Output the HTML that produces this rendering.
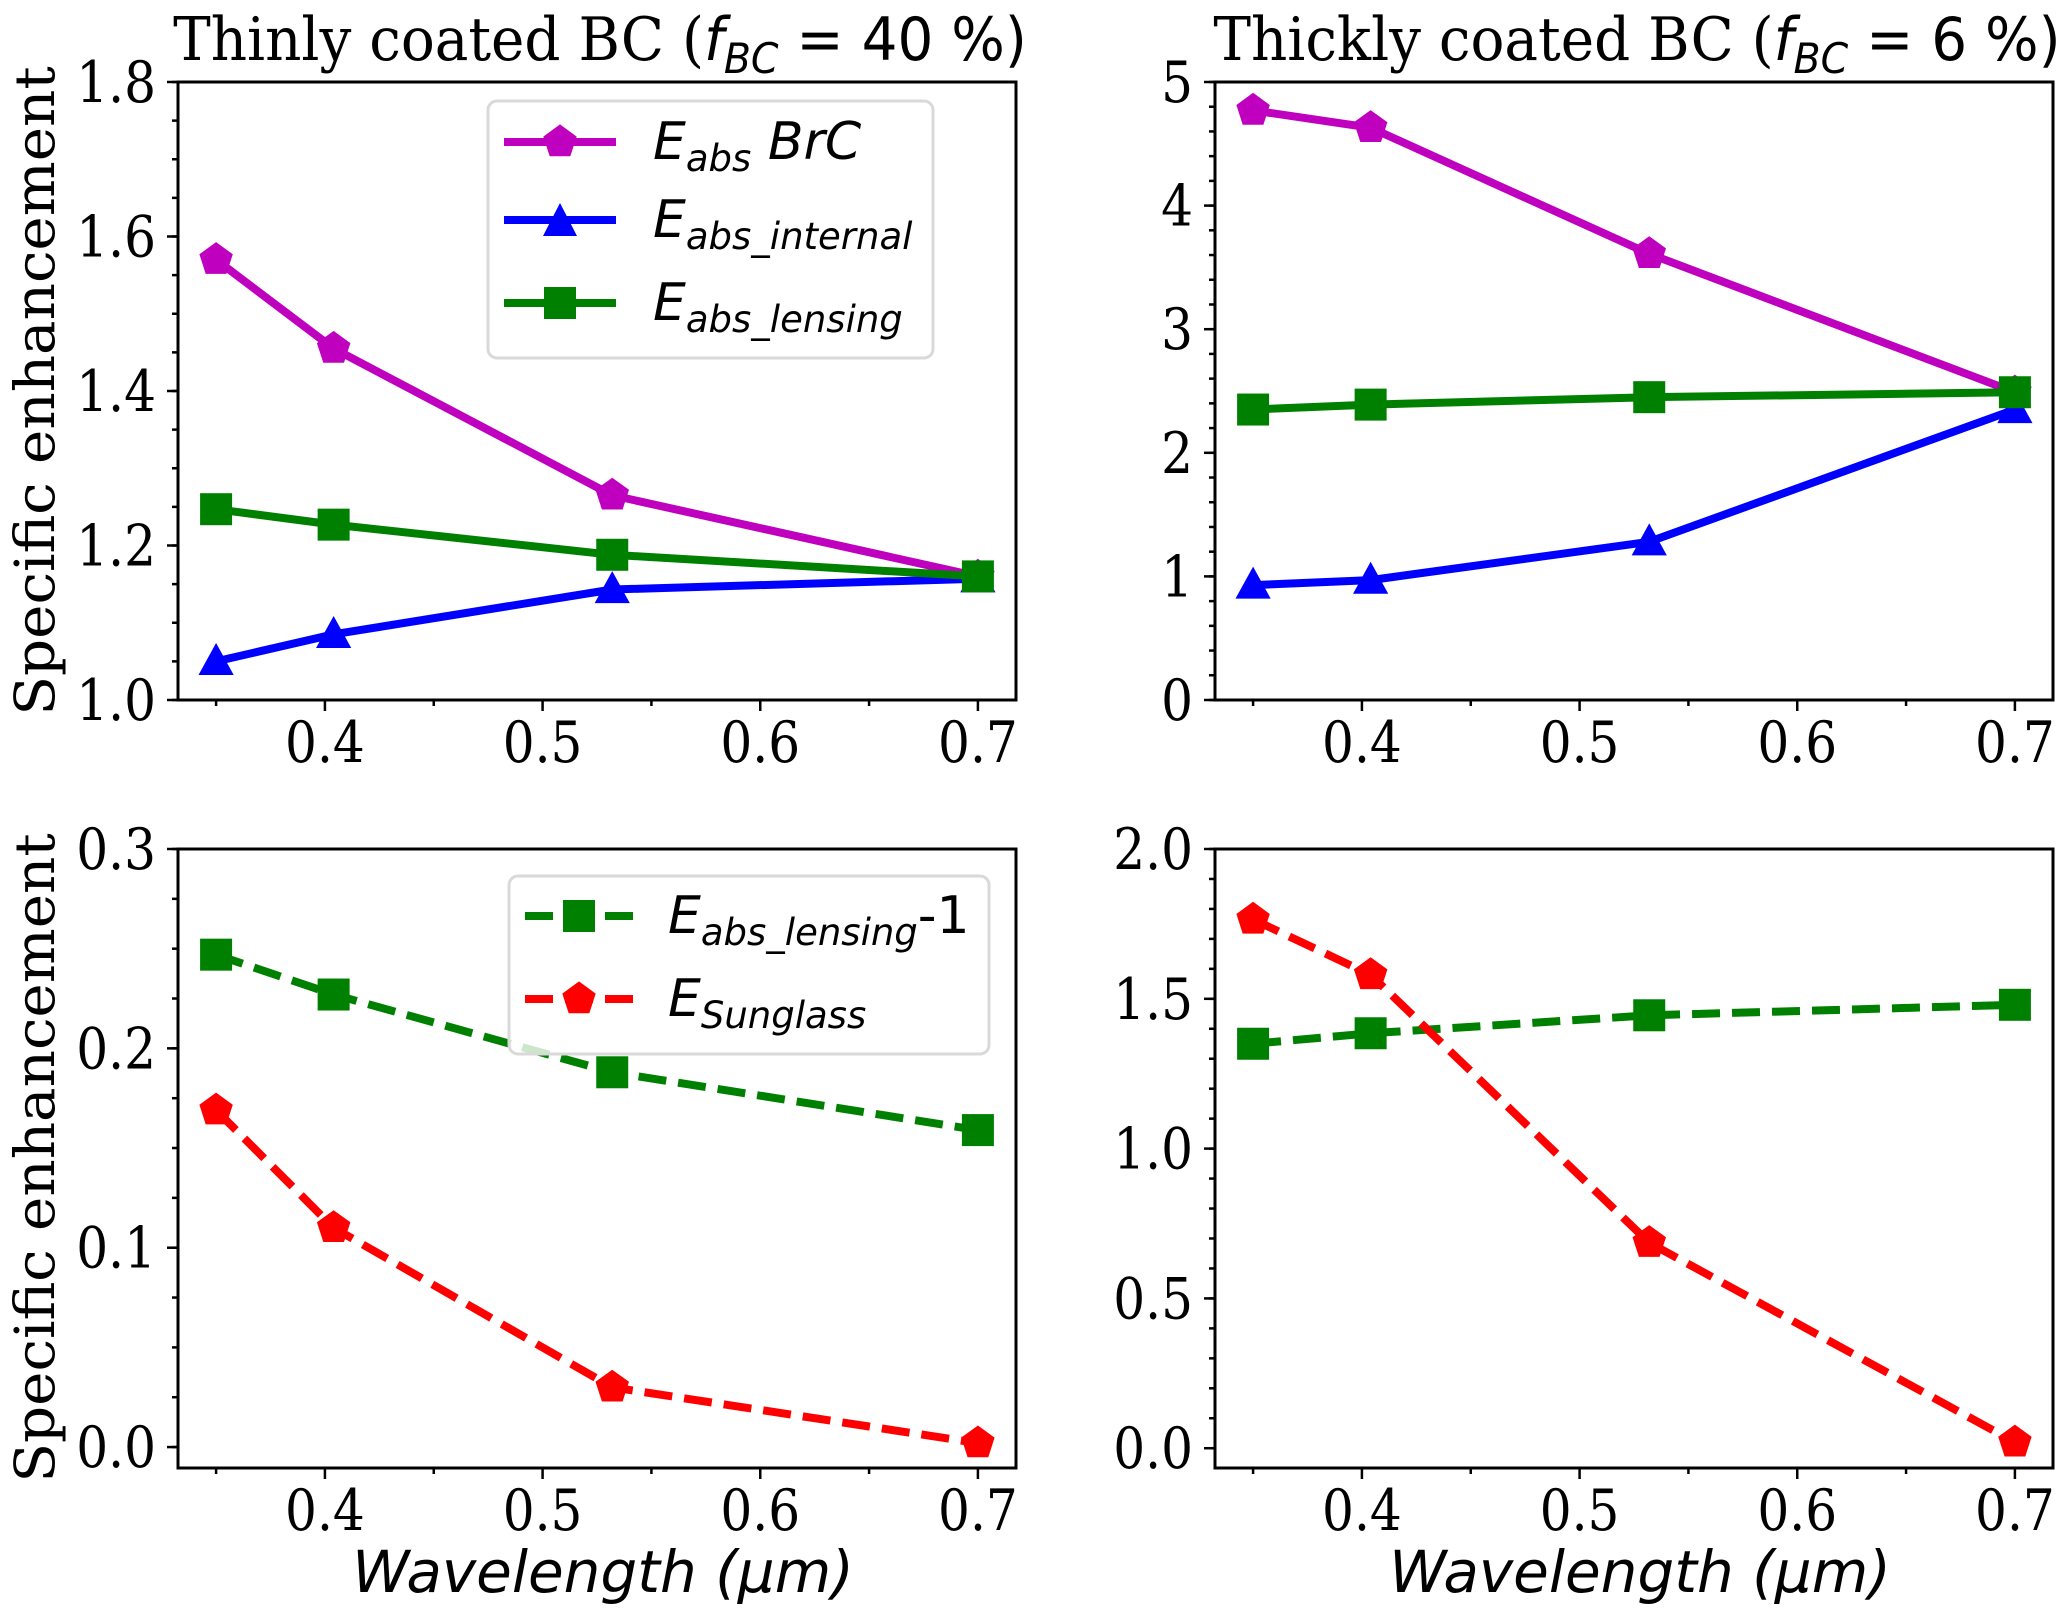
<!DOCTYPE html>
<html><head><meta charset="utf-8"><style>
html,body{margin:0;padding:0;background:#fff}
svg{display:block}
.tk{font-family:"DejaVu Serif","Liberation Serif",serif;font-size:57px;fill:#000}
.ms{font-family:"DejaVu Sans","Liberation Sans",sans-serif;font-style:italic;fill:#000}
</style></head><body>
<svg id="fig" width="2067" height="1611" viewBox="0 0 2067 1611" xmlns="http://www.w3.org/2000/svg"></svg>
<script>
const xVals=[0.35,0.404,0.532,0.7];
const xTicks=[0.4,0.5,0.6,0.7];
const xTickLabels=["0.4","0.5","0.6","0.7"];
const a_brc=[1.57,1.455,1.265,1.16];
const a_internal=[1.05,1.085,1.143,1.157];
const a_lensing=[1.247,1.227,1.188,1.16];
const a_yTicks=[1.0,1.2,1.4,1.6,1.8];
const a_yLabels=["1.0","1.2","1.4","1.6","1.8"];
const b_brc=[4.77,4.63,3.61,2.49];
const b_internal=[0.93,0.97,1.28,2.35];
const b_lensing=[2.35,2.39,2.45,2.49];
const b_yTicks=[0,1,2,3,4,5];
const b_yLabels=["0","1","2","3","4","5"];
const c_lensing1=[0.247,0.227,0.188,0.159];
const c_sunglass=[0.169,0.110,0.030,0.002];
const c_yTicks=[0.0,0.1,0.2,0.3];
const c_yLabels=["0.0","0.1","0.2","0.3"];
const d_lensing1=[1.35,1.385,1.445,1.48];
const d_sunglass=[1.765,1.58,0.686,0.02];
const d_yTicks=[0.0,0.5,1.0,1.5,2.0];
const d_yLabels=["0.0","0.5","1.0","1.5","2.0"];

const NS="http://www.w3.org/2000/svg";
const svg=document.getElementById('fig');
function mk(tag,attrs,parent){const e=document.createElementNS(NS,tag);for(const k in attrs)e.setAttribute(k,attrs[k]);(parent||svg).appendChild(e);return e;}

function marker(g,type,cx,cy,color){
  const s=16;let el;
  if(type==='s'){el=mk('rect',{x:cx-s,y:cy-s,width:2*s,height:2*s,fill:color},g);}
  else if(type==='^'){el=mk('polygon',{points:`${cx},${cy-s*1.15} ${cx-s*1.1},${cy+s*0.85} ${cx+s*1.1},${cy+s*0.85}`,fill:color},g);}
  else{let p=[];for(let i=0;i<5;i++){const a=-Math.PI/2+i*2*Math.PI/5;p.push((cx+s*1.1*Math.cos(a)).toFixed(1)+','+(cy+s*1.1*Math.sin(a)).toFixed(1));}el=mk('polygon',{points:p.join(' '),fill:color},g);}
  
  
}

function panel(name,L,R,T,B,ymin,ymax,yTicks,yLabels,yMinorStep,series){
  const g=mk('g',{});
  
  
  const x0=0.3325,x1=0.7175;
  const sx=v=>L+(v-x0)/(x1-x0)*(R-L);
  const sy=v=>B-(v-ymin)/(ymax-ymin)*(B-T);
  series.forEach(s=>{
    const sg=mk('g',{},g);
    
    
    const pts=xVals.map((x,i)=>sx(x).toFixed(1)+','+sy(s.vals[i]).toFixed(1)).join(' ');
    const pl=mk('polyline',{points:pts,fill:'none',stroke:s.color,'stroke-width':8,'stroke-linejoin':'round'},sg);
    if(s.dash)pl.setAttribute('stroke-dasharray','28 12');
    
    
    xVals.forEach((x,i)=>marker(sg,s.m,sx(x),sy(s.vals[i]),s.color));
  });
  const fr=mk('rect',{x:L,y:T,width:R-L,height:B-T,fill:'none',stroke:'#000','stroke-width':3},g);
  
  
  for(let v=0.35;v<=0.7001;v+=0.05){
    const major=Math.abs(v*10-Math.round(v*10))<1e-6;
    mk('line',{x1:sx(v),x2:sx(v),y1:B,y2:B+(major?11:6),stroke:'#000','stroke-width':2.5},g);
  }
  xTicks.forEach((v,i)=>{
    const t=mk('text',{transform:`translate(${sx(v)},${B+62}) scale(0.88,1)`,'text-anchor':'middle',class:'tk'},g);
    t.textContent=xTickLabels[i];
    
    
  });
  const n=Math.round((ymax-Math.max(ymin,yTicks[0]))/yMinorStep);
  for(let k=0;k<=n;k++){const v=yTicks[0]+k*yMinorStep;if(v<ymin-1e-9)continue;
    mk('line',{x1:L,x2:L-6,y1:sy(v),y2:sy(v),stroke:'#000','stroke-width':2.5},g);}
  yTicks.forEach((v,i)=>{
    mk('line',{x1:L,x2:L-11,y1:sy(v),y2:sy(v),stroke:'#000','stroke-width':2.5},g);
    const t=mk('text',{transform:`translate(${L-22},${sy(v)+20}) scale(0.88,1)`,'text-anchor':'end',class:'tk'},g);
    t.textContent=yLabels[i];
    
    
  });
  return g;
}

panel('panel-thin-top',178,1016,82,700,1.0,1.8,a_yTicks,a_yLabels,0.05,[
  {name:'series-eabs-brc',vals:a_brc,color:'#bf00bf',m:'p'},
  {name:'series-eabs-internal',vals:a_internal,color:'#0000ff',m:'^'},
  {name:'series-eabs-lensing',vals:a_lensing,color:'#008000',m:'s'}]);
panel('panel-thick-top',1215,2053,82,700,0,5,b_yTicks,b_yLabels,0.2,[
  {name:'series-eabs-brc',vals:b_brc,color:'#bf00bf',m:'p'},
  {name:'series-eabs-internal',vals:b_internal,color:'#0000ff',m:'^'},
  {name:'series-eabs-lensing',vals:b_lensing,color:'#008000',m:'s'}]);
panel('panel-thin-bottom',178,1016,849,1468,-0.0105,0.3,c_yTicks,c_yLabels,0.025,[
  {name:'series-lensing-minus-1',vals:c_lensing1,color:'#008000',m:'s',dash:true},
  {name:'series-sunglass',vals:c_sunglass,color:'#ff0000',m:'p',dash:true}]);
panel('panel-thick-bottom',1215,2053,849,1468,-0.066,2.0,d_yTicks,d_yLabels,0.1,[
  {name:'series-lensing-minus-1',vals:d_lensing1,color:'#008000',m:'s',dash:true},
  {name:'series-sunglass',vals:d_sunglass,color:'#ff0000',m:'p',dash:true}]);
</script>
<svg width="2067" height="1611" style="position:absolute;left:0;top:0" xmlns="http://www.w3.org/2000/svg">
  <text transform="translate(600,60) scale(0.94,1)" text-anchor="middle" style="font-family:'DejaVu Serif','Liberation Serif',serif;font-size:60px">Thinly coated BC (<tspan class="ms">f</tspan><tspan class="ms" style="font-size:42px" dy="13">BC</tspan><tspan dy="-13" style="font-family:'DejaVu Sans',sans-serif"> = 40 %)</tspan></text>
  <text transform="translate(1637,60) scale(0.94,1)" text-anchor="middle" style="font-family:'DejaVu Serif','Liberation Serif',serif;font-size:60px">Thickly coated BC (<tspan class="ms">f</tspan><tspan class="ms" style="font-size:42px" dy="13">BC</tspan><tspan dy="-13" style="font-family:'DejaVu Sans',sans-serif"> = 6 %)</tspan></text>
  <text transform="translate(54,391) rotate(-90) scale(1,0.95)" text-anchor="middle" class="tk" style="font-size:58px">Specific enhancement</text>
  <text transform="translate(54,1158) rotate(-90) scale(1,0.95)" text-anchor="middle" class="tk" style="font-size:58px">Specific enhancement</text>
  <text x="603" y="1592" text-anchor="middle" class="ms" style="font-size:58px">Wavelength (μm)</text>
  <text x="1640" y="1592" text-anchor="middle" class="ms" style="font-size:58px">Wavelength (μm)</text>
  <g>
    <rect x="488" y="101" width="445" height="257" rx="9" fill="#fff" fill-opacity="0.8" stroke="#d9d9d9" stroke-width="3"/>
    <g>
      <line x1="504" x2="616" y1="142" y2="142" stroke="#bf00bf" stroke-width="8"/>
      <polygon points="560,124.4 576.7,136.6 570.3,156.2 549.7,156.2 543.3,136.6" fill="#bf00bf"/>
      <text x="653" y="159" class="ms" style="font-size:52px">E<tspan dy="12" style="font-size:37px">abs</tspan><tspan dy="-12"> BrC</tspan></text>
    </g>
    <g>
      <line x1="504" x2="616" y1="220" y2="220" stroke="#0000ff" stroke-width="8"/>
      <polygon points="560,203 543,236 577,236" fill="#0000ff"/>
      <text x="653" y="237" class="ms" style="font-size:52px">E<tspan dy="12" style="font-size:37px">abs_internal</tspan></text>
    </g>
    <g>
      <line x1="504" x2="616" y1="303" y2="303" stroke="#008000" stroke-width="8"/>
      <rect x="544" y="287" width="32" height="32" fill="#008000"/>
      <text x="653" y="320" class="ms" style="font-size:52px">E<tspan dy="12" style="font-size:37px">abs_lensing</tspan></text>
    </g>
  </g>
  <g>
    <rect x="509" y="876" width="480" height="178" rx="9" fill="#fff" fill-opacity="0.8" stroke="#d9d9d9" stroke-width="3"/>
    <g>
      <line x1="525" x2="633" y1="916" y2="916" stroke="#008000" stroke-width="8" stroke-dasharray="28 12"/>
      <rect x="563" y="900" width="32" height="32" fill="#008000"/>
      <text x="668" y="933" class="ms" style="font-size:52px">E<tspan dy="12" style="font-size:37px">abs_lensing</tspan><tspan dy="-12" style="font-style:normal">-1</tspan></text>
    </g>
    <g>
      <line x1="525" x2="633" y1="999" y2="999" stroke="#ff0000" stroke-width="8" stroke-dasharray="28 12"/>
      <polygon points="579,981.4 595.7,993.6 589.3,1013.2 568.7,1013.2 562.3,993.6" fill="#ff0000"/>
      <text x="668" y="1016" class="ms" style="font-size:52px">E<tspan dy="12" style="font-size:37px">Sunglass</tspan></text>
    </g>
  </g>
</svg>
</body></html>
